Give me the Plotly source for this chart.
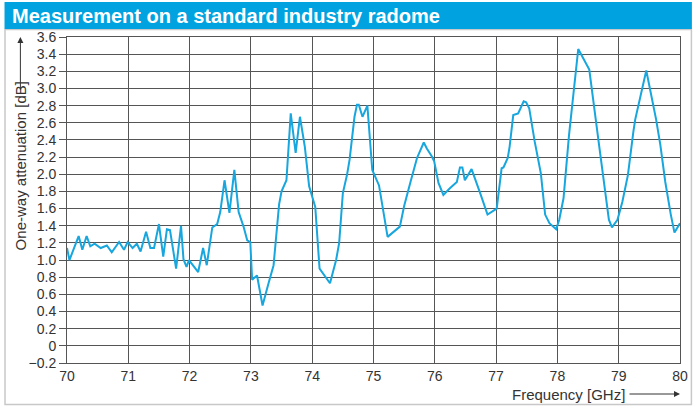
import plotly.graph_objects as go

# ---- data ----
freq_ghz = [
    70.00, 70.04, 70.19, 70.25, 70.32, 70.38, 70.45, 70.55, 70.65, 70.73,
    70.85, 70.93, 70.99, 71.07, 71.14, 71.20, 71.29, 71.36, 71.42, 71.50,
    71.57, 71.63, 71.68, 71.78, 71.86, 71.90, 71.95, 71.99, 72.14, 72.22,
    72.28, 72.37, 72.45, 72.50, 72.57, 72.65, 72.73, 72.80, 72.88, 72.94,
    72.99, 73.02, 73.10, 73.19, 73.28, 73.37, 73.46, 73.50, 73.58, 73.65,
    73.73, 73.80, 73.88, 73.95, 74.05, 74.12, 74.29, 74.39, 74.44, 74.50,
    74.57, 74.61, 74.69, 74.73, 74.76, 74.82, 74.90, 74.98, 75.09, 75.23,
    75.43, 75.50, 75.60, 75.71, 75.82, 75.87, 75.95, 75.99, 76.06, 76.14,
    76.25, 76.36, 76.41, 76.45, 76.49, 76.55, 76.60, 76.74, 76.86, 77.01,
    77.09, 77.12, 77.19, 77.22, 77.28, 77.36, 77.41, 77.45, 77.49, 77.54,
    77.63, 77.73, 77.80, 77.87, 77.98, 78.03, 78.10, 78.19, 78.34, 78.52,
    78.68, 78.84, 78.89, 78.98, 79.06, 79.15, 79.24, 79.27, 79.45, 79.61,
    79.68, 79.76, 79.85, 79.91, 80.00,
]
attenuation_db = [
    1.14, 1.00, 1.28, 1.12, 1.28, 1.16, 1.19, 1.14, 1.17, 1.09,
    1.21, 1.12, 1.21, 1.14, 1.19, 1.10, 1.33, 1.14, 1.14, 1.42,
    1.04, 1.36, 1.35, 0.90, 1.40, 1.01, 0.92, 1.00, 0.86, 1.14,
    0.94, 1.38, 1.42, 1.56, 1.93, 1.55, 2.05, 1.56, 1.39, 1.23,
    1.21, 0.77, 0.82, 0.47, 0.71, 0.94, 1.65, 1.80, 1.93, 2.71,
    2.25, 2.67, 2.32, 1.86, 1.62, 0.90, 0.73, 1.00, 1.20, 1.78,
    2.00, 2.17, 2.67, 2.81, 2.81, 2.67, 2.80, 2.05, 1.87, 1.27,
    1.39, 1.63, 1.90, 2.19, 2.37, 2.30, 2.21, 2.15, 1.90, 1.76,
    1.84, 1.91, 2.08, 2.08, 1.93, 2.01, 2.06, 1.78, 1.53, 1.60,
    2.07, 2.08, 2.19, 2.32, 2.69, 2.71, 2.80, 2.85, 2.84, 2.77,
    2.38, 2.01, 1.53, 1.43, 1.36, 1.47, 1.72, 2.46, 3.46, 3.22,
    2.34, 1.47, 1.38, 1.47, 1.68, 1.99, 2.50, 2.64, 3.21, 2.64,
    2.34, 1.91, 1.53, 1.32, 1.43,
]

x_tick_vals = [70, 71, 72, 73, 74, 75, 76, 77, 78, 79, 80]
x_tick_text = ["70", "71", "72", "73", "74", "75", "76", "77", "78", "79", "80"]
y_tick_vals = [-0.2, 0, 0.2, 0.4, 0.6, 0.8, 1.0, 1.2, 1.4, 1.6, 1.8, 2.0,
               2.2, 2.4, 2.6, 2.8, 3.0, 3.2, 3.4, 3.6]
y_tick_text = ["\u22120.2", "0", "0.2", "0.4", "0.6", "0.8", "1.0", "1.2", "1.4",
               "1.6", "1.8", "2.0", "2.2", "2.4", "2.6", "2.8", "3.0", "3.2",
               "3.4", "3.6"]

title_text = "Measurement on a standard industry radome"
y_title = "One-way attenuation [dB]"
x_title = "Frequency [GHz]"

# ---- layout geometry (pixels) ----
W, H = 700, 406
L, R, T, B = 67, 15, 37, 43
PW, PH = W - L - R, H - T - B


def px(x):
    return (x - L) / PW


def py(y):
    return (H - B - y) / PH


FONT = "Liberation Sans Narrow, Arial Narrow, sans-serif"
TXT = "#333333"
GRID = "#555555"
BLUE = "#00A3E0"
LINE = "#17A6DD"

fig = go.Figure()
fig.add_trace(go.Scatter(
    x=freq_ghz, y=attenuation_db, mode="lines",
    line=dict(color=LINE, width=2), hoverinfo="x+y", showlegend=False,
))

fig.update_layout(
    width=W, height=H,
    margin=dict(l=L, r=R, t=T, b=B),
    paper_bgcolor="white", plot_bgcolor="white",
    font=dict(family=FONT, size=14, color=TXT),
    xaxis=dict(
        range=[70, 80], tickvals=x_tick_vals, ticktext=x_tick_text,
        showgrid=True, gridcolor=GRID, gridwidth=1, zeroline=False,
        showline=True, mirror=True, linecolor=GRID, linewidth=1,
        ticks="", tickfont=dict(family=FONT, size=14, color=TXT),
    ),
    yaxis=dict(
        range=[-0.2, 3.6], tickvals=y_tick_vals, ticktext=y_tick_text,
        showgrid=True, gridcolor=GRID, gridwidth=1, zeroline=False,
        showline=True, mirror=True, linecolor=GRID, linewidth=1,
        ticks="outside", ticklen=7, tickcolor=GRID, tickwidth=1,
        tickfont=dict(family=FONT, size=14, color=TXT),
    ),
    shapes=[
        # outer frame
        dict(type="rect", xref="paper", yref="paper",
             x0=px(4.5), x1=px(696.5), y0=py(404.5), y1=py(29.5),
             line=dict(color="#c8c8c8", width=1.5), fillcolor="rgba(0,0,0,0)",
             layer="below"),
        # title bar
        dict(type="rect", xref="paper", yref="paper",
             x0=px(4), x1=px(697), y0=py(29), y1=py(2),
             line=dict(width=0), fillcolor=BLUE, layer="below"),
    ],
    annotations=[
        dict(text=title_text, xref="paper", yref="paper",
             x=px(10), y=py(15.5), xanchor="left", yanchor="middle",
             showarrow=False,
             font=dict(family="Liberation Sans, Arial, sans-serif", size=20,
                       color="white", weight="bold")),
        dict(text=y_title, xref="paper", yref="paper",
             x=px(20), y=py(166), textangle=-90, xanchor="center",
             yanchor="middle", showarrow=False,
             font=dict(family=FONT, size=15, color=TXT)),
        dict(text="", xref="paper", yref="paper", x=px(20), y=py(37),
             ax=0, ay=54, showarrow=True, arrowhead=2, arrowsize=1.2,
             arrowwidth=1, arrowcolor=TXT),
        dict(text=x_title, xref="paper", yref="paper",
             x=px(573), y=py(394), xanchor="center", yanchor="middle",
             showarrow=False, font=dict(family=FONT, size=15, color=TXT)),
        dict(text="", xref="paper", yref="paper", x=px(685), y=py(394),
             ax=-52, ay=0, showarrow=True, arrowhead=2, arrowsize=1.2,
             arrowwidth=1, arrowcolor=TXT),
    ],
)

fig.write_html(
    "out.html",
    config={"displayModeBar": False},
    post_script="document.body.style.margin='0px';document.body.style.overflow='hidden';",
)
